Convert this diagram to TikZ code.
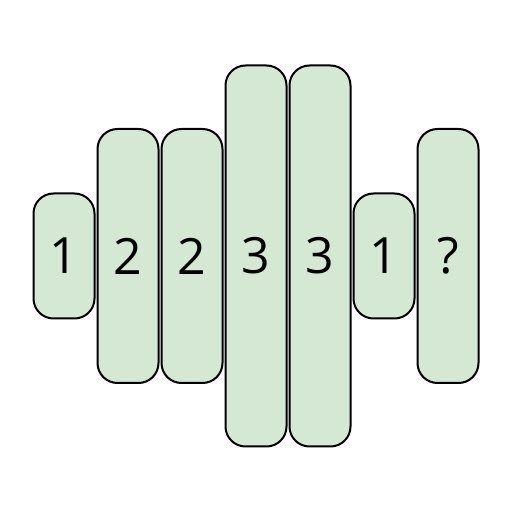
\documentclass[tikz,border=0pt]{standalone}
\usepackage{fontspec}
\setmainfont{Open Sans}
\usepackage{tikz}
\definecolor{barfill}{HTML}{D5E8D4}
\tikzset{bar/.style={draw=black,fill=barfill,line width=2pt,rounded corners=20pt,
    minimum width=61pt,inner sep=0pt,font=\fontsize{50}{50}\selectfont}}

\begin{document}
\begin{tikzpicture}[x=1pt,y=1pt]
    \useasboundingbox (0,0) rectangle (512,512);
    \node[bar,minimum height=125pt] at (64,256) (bar1) {1};
    \node[bar,minimum height=254pt] at (128,256) (bar2) {2};
    \node[bar,minimum height=254pt] at (192,256) (bar3) {2};
    \node[bar,minimum height=381pt] at (256,256) (bar4) {3};
    \node[bar,minimum height=381pt] at (320,256) (bar5) {3};
    \node[bar,minimum height=125pt] at (384,256) (bar6) {1};
    \node[bar,minimum height=254pt] at (448,256) (bar7) {?};
\end{tikzpicture}
\end{document}
